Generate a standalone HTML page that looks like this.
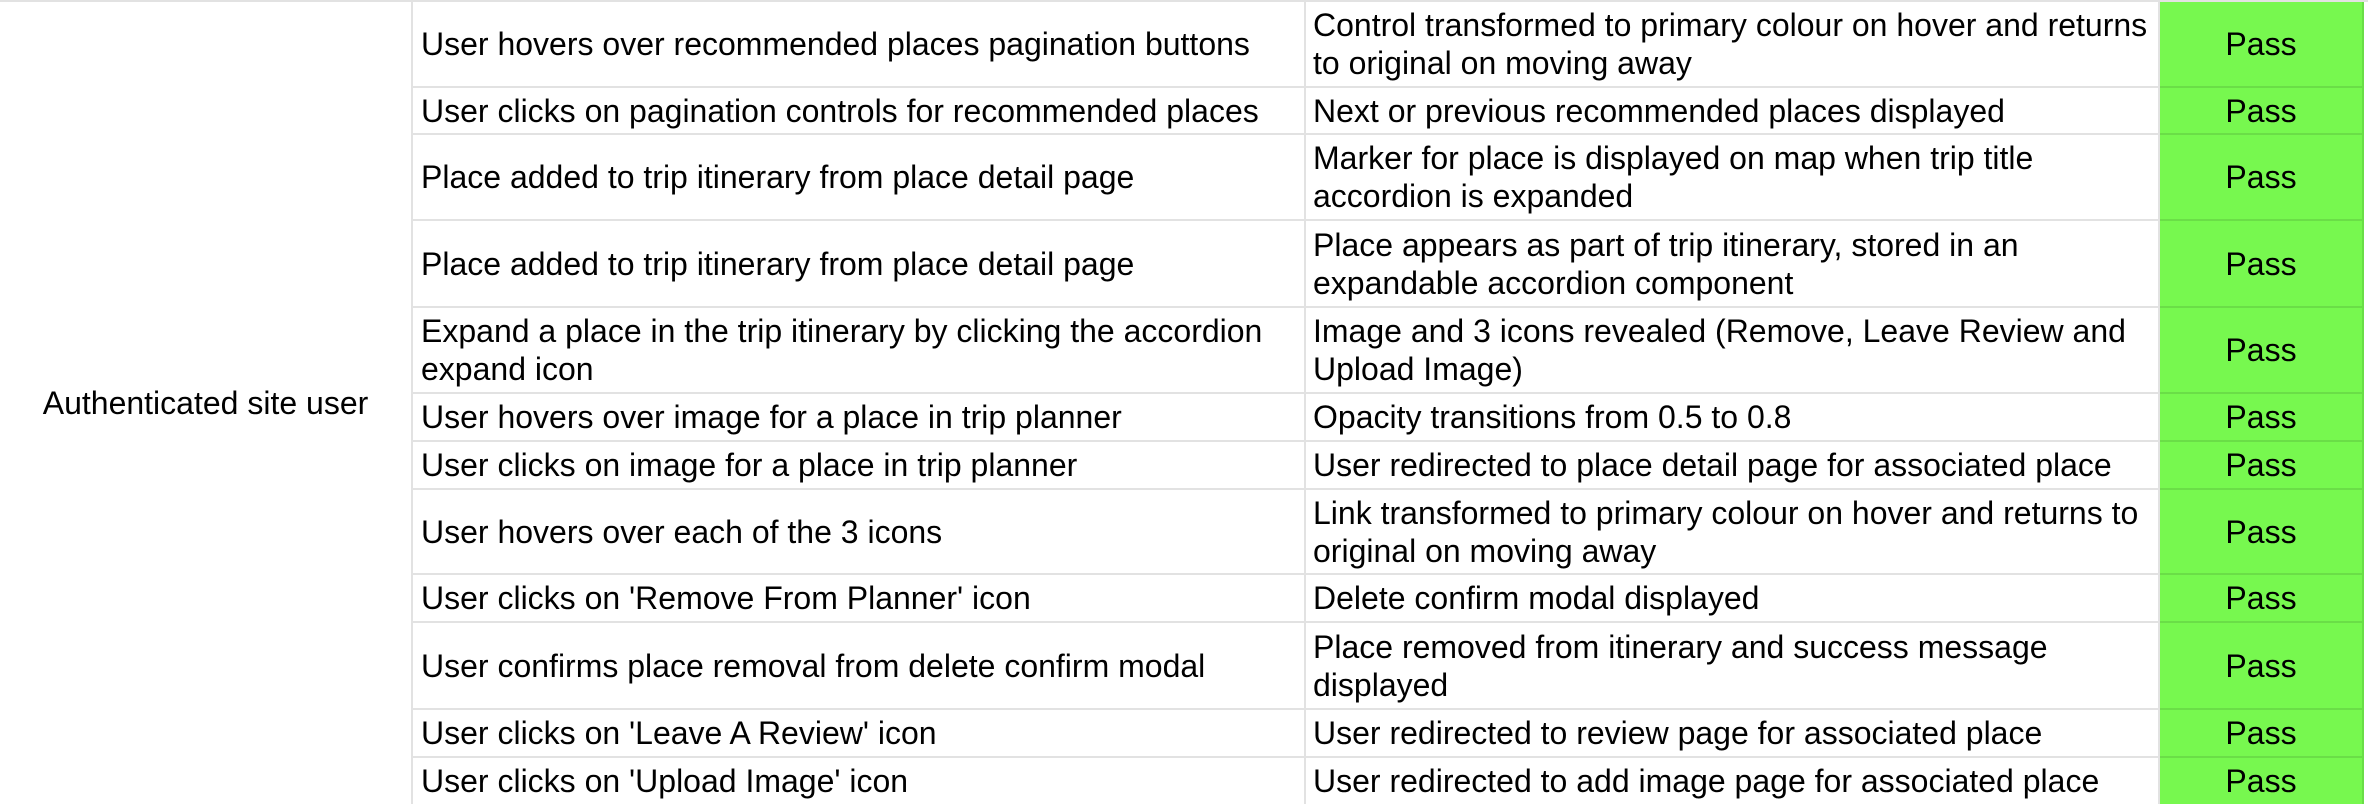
<!DOCTYPE html>
<html><head><meta charset="utf-8"><style>
html,body{margin:0;padding:0;background:#fff;width:2368px;height:804px;overflow:hidden}
body{position:relative;font-family:"Liberation Sans",Arial,sans-serif;font-size:32px;color:#000}
.c{position:absolute;box-sizing:border-box;display:flex;align-items:center;line-height:38px;border-bottom:2px solid #e2e2e2;border-right:2px solid #e2e2e2}
.a{left:413px;width:893px;padding-left:8px}
.b{left:1306px;width:854px;padding-left:7px;padding-right:6px}
.p{left:2160px;width:204px;justify-content:center;background:#77f84f;border-bottom:2px solid #6ade47;border-right:2px solid #6ade47}
.top{position:absolute;left:0;top:0;width:2368px;height:2px;background:#e2e2e2}
.l{position:absolute;left:0;top:2px;width:413px;height:802px;box-sizing:border-box;border-right:2px solid #e2e2e2;display:flex;align-items:center;justify-content:center}
</style></head><body>
<div class="top"></div>
<div class="l">Authenticated site user</div>

<div class="c a" style="top:2px;height:86px">User hovers over recommended places pagination buttons</div>
<div class="c b" style="top:2px;height:86px">Control transformed to primary colour on hover and returns to original on moving away</div>
<div class="c p" style="top:2px;height:86px">Pass</div>

<div class="c a" style="top:88px;height:47px">User clicks on pagination controls for recommended places</div>
<div class="c b" style="top:88px;height:47px">Next or previous recommended places displayed</div>
<div class="c p" style="top:88px;height:47px">Pass</div>

<div class="c a" style="top:135px;height:86px">Place added to trip itinerary from place detail page</div>
<div class="c b" style="top:135px;height:86px">Marker for place is displayed on map when trip title<br>accordion is expanded</div>
<div class="c p" style="top:135px;height:86px">Pass</div>

<div class="c a" style="top:221px;height:87px">Place added to trip itinerary from place detail page</div>
<div class="c b" style="top:221px;height:87px">Place appears as part of trip itinerary, stored in an expandable accordion component</div>
<div class="c p" style="top:221px;height:87px">Pass</div>

<div class="c a" style="top:308px;height:86px">Expand a place in the trip itinerary by clicking the accordion expand icon</div>
<div class="c b" style="top:308px;height:86px">Image and 3 icons revealed (Remove, Leave Review and Upload Image)</div>
<div class="c p" style="top:308px;height:86px">Pass</div>

<div class="c a" style="top:394px;height:48px">User hovers over image for a place in trip planner</div>
<div class="c b" style="top:394px;height:48px">Opacity transitions from 0.5 to 0.8</div>
<div class="c p" style="top:394px;height:48px">Pass</div>

<div class="c a" style="top:442px;height:48px">User clicks on image for a place in trip planner</div>
<div class="c b" style="top:442px;height:48px">User redirected to place detail page for associated place</div>
<div class="c p" style="top:442px;height:48px">Pass</div>

<div class="c a" style="top:490px;height:85px">User hovers over each of the 3 icons</div>
<div class="c b" style="top:490px;height:85px">Link transformed to primary colour on hover and returns to original on moving away</div>
<div class="c p" style="top:490px;height:85px">Pass</div>

<div class="c a" style="top:575px;height:48px">User clicks on 'Remove From Planner' icon</div>
<div class="c b" style="top:575px;height:48px">Delete confirm modal displayed</div>
<div class="c p" style="top:575px;height:48px">Pass</div>

<div class="c a" style="top:623px;height:87px">User confirms place removal from delete confirm modal</div>
<div class="c b" style="top:623px;height:87px">Place removed from itinerary and success message displayed</div>
<div class="c p" style="top:623px;height:87px">Pass</div>

<div class="c a" style="top:710px;height:48px">User clicks on 'Leave A Review' icon</div>
<div class="c b" style="top:710px;height:48px">User redirected to review page for associated place</div>
<div class="c p" style="top:710px;height:48px">Pass</div>

<div class="c a" style="top:758px;height:48px">User clicks on 'Upload Image' icon</div>
<div class="c b" style="top:758px;height:48px">User redirected to add image page for associated place</div>
<div class="c p" style="top:758px;height:48px">Pass</div>
</body></html>
